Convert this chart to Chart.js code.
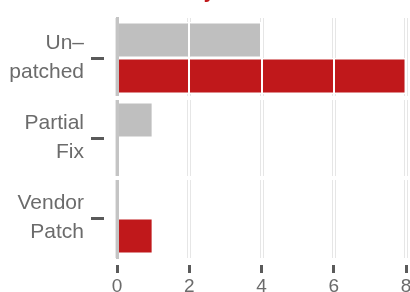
<!DOCTYPE html>
<html>
<head>
<meta charset="utf-8">
<script src="https://cdn.jsdelivr.net/npm/chart.js@4.4.1/dist/chart.umd.min.js"></script>
<style>
  html, body { margin: 0; padding: 0; background: #ffffff; }
  #wrap { width: 410px; height: 292px; }
</style>
</head>
<body>
<div id="wrap"><canvas id="grafico" width="410" height="292"></canvas></div>
<script>
// categorias y valores
const categorias = [["Un–", "patched"], ["Partial", "Fix"], ["Vendor", "Patch"]];
const valoresGris = [4, 1, 0];
const valoresRojo = [8, 0, 1];
const ticksX = [0, 2, 4, 6, 8];
const titulo = "Availability of Fixes";

const fuente = "'Liberation Sans', Arial, sans-serif";
const grisTexto = "#6b6b6b";
const grisTick = "#5a5a5a";

// franjas blancas entre paneles (como facetas)
const separadores = {
  id: "separadores",
  afterDraw(chart) {
    const ys = chart.scales.y;
    const a = chart.chartArea;
    const ctx = chart.ctx;
    ctx.save();
    ctx.fillStyle = "#ffffff";
    for (let i = 1; i < categorias.length; i++) {
      const m = (ys.getPixelForValue(i - 1) + ys.getPixelForValue(i)) / 2;
      ctx.fillRect(a.left - 3, m - 2, a.right - a.left + 6, 4);
    }
    ctx.restore();
  },
};

const escalaX = (extra) => Object.assign({
  type: "linear",
  position: "bottom",
  min: ticksX[0],
  max: ticksX[ticksX.length - 1],
  afterBuildTicks: (s) => { s.ticks = ticksX.map((v) => ({ value: v })); },
  border: { display: false },
}, extra);

const ctx = document.getElementById("grafico").getContext("2d");
const grafico = new Chart(ctx, {
  type: "bar",
  data: {
    labels: categorias,
    datasets: [
      {
        label: "Disclosed",
        data: valoresGris,
        backgroundColor: "#bfbfbf",
        borderColor: "#ffffff",
        borderWidth: 1.5,
      },
      {
        label: "Exploited",
        data: valoresRojo,
        backgroundColor: "#c0181b",
        borderColor: "#ffffff",
        borderWidth: 1.5,
      },
    ],
  },
  options: {
    indexAxis: "y",
    responsive: false,
    animation: false,
    devicePixelRatio: 1,
    layout: { padding: { top: 0, right: 4, bottom: 0, left: 0 } },
    datasets: { bar: { categoryPercentage: 0.9, barPercentage: 1 } },
    plugins: {
      legend: { display: false },
      tooltip: { enabled: false },
      title: {
        display: true,
        text: titulo,
        color: "#c0181b",
        font: { family: fuente, size: 20 },
        padding: { top: -20, bottom: 14 },
      },
    },
    scales: {
      x: escalaX({
        weight: 0,
        ticks: { display: false },
        grid: { color: "#e6e6e6", lineWidth: 4, drawTicks: false },
        afterFit: (s) => { s.height = 7; s.paddingLeft = 0; s.paddingRight = 0; },
      }),
      // lineas blancas por encima de las barras
      xBlanca: escalaX({
        weight: -1,
        ticks: { display: false },
        grid: { color: "#ffffff", lineWidth: 2, drawTicks: false, z: 1 },
        afterFit: (s) => { s.height = 0; s.paddingLeft = 0; s.paddingRight = 0; },
      }),
      xTicks: escalaX({
        weight: 1,
        ticks: {
          color: grisTexto,
          font: { family: fuente, size: 19 },
          padding: 2,
          maxRotation: 0,
          autoSkip: false,
        },
        grid: {
          drawOnChartArea: false,
          color: "rgba(0,0,0,0)",
          tickLength: 8,
          tickColor: grisTick,
          tickWidth: 3,
        },
        afterFit: (s) => { s.height = 27; s.paddingLeft = 0; s.paddingRight = 0; },
      }),
      y: {
        type: "category",
        position: "left",
        weight: 0,
        offset: true,
        ticks: { display: false },
        grid: { display: false },
        border: { display: true, color: "#c4c4c4", width: 3, z: 2 },
        afterFit: (s) => { s.width = 13; s.paddingTop = 0; s.paddingBottom = 0; },
      },
      yTicks: {
        type: "category",
        position: "left",
        weight: 1,
        offset: true,
        ticks: {
          color: grisTexto,
          font: { family: fuente, size: 21, lineHeight: 1.38 },
          padding: 7,
          autoSkip: false,
        },
        grid: {
          drawOnChartArea: false,
          offset: false,
          color: "rgba(0,0,0,0)",
          tickLength: 13,
          tickColor: grisTick,
          tickWidth: 3,
        },
        border: { display: false },
        afterFit: (s) => { s.width = 104; s.paddingTop = 0; s.paddingBottom = 0; },
      },
    },
  },
  plugins: [separadores],
});
</script>
</body>
</html>
